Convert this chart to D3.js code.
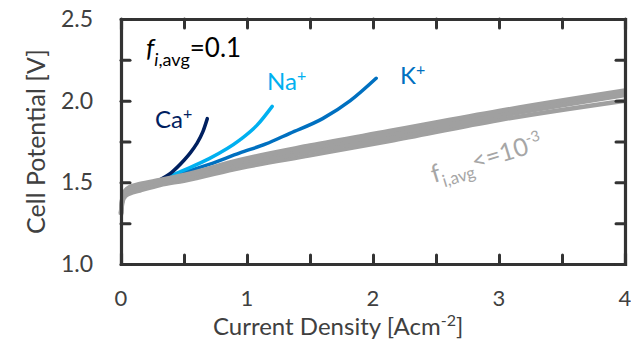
<!DOCTYPE html>
<html>
<head>
<meta charset="utf-8">
<script src="https://cdn.jsdelivr.net/npm/d3@7"></script>
<style>
  html, body { margin: 0; padding: 0; background: #fff; }
  svg { display: block; font-family: Lato, "Open Sans", sans-serif; }
</style>
</head>
<body>
<svg id="chart" width="631" height="340"></svg>
<script>
// Current density [A cm^-2] and cell potential [V] for each curve
const grayX  = [0, 0.005, 0.015, 0.035, 0.07, 0.15, 0.31, 0.5, 0.944, 1.5, 2.13, 3, 4];
const grayV1 = [1.31, 1.37, 1.415, 1.45, 1.472, 1.49, 1.514, 1.545, 1.637, 1.725, 1.814, 1.937, 2.062];
const grayV2 = [1.31, 1.365, 1.41, 1.442, 1.463, 1.48, 1.505, 1.535, 1.625, 1.71, 1.795, 1.918, 2.044];
const grayV3 = [1.305, 1.355, 1.40, 1.43, 1.449, 1.465, 1.495, 1.523, 1.607, 1.688, 1.774, 1.905, 2.035];
const grayV4 = [1.30, 1.345, 1.39, 1.415, 1.432, 1.45, 1.484, 1.51, 1.588, 1.665, 1.753, 1.882, 2.0];

const caX = [0.28, 0.4, 0.5, 0.55, 0.6, 0.65, 0.685];
const caV = [1.505, 1.56, 1.635, 1.68, 1.735, 1.81, 1.89];

const naX = [0.3, 0.5, 0.7, 0.944, 1.08, 1.2];
const naV = [1.51, 1.575, 1.645, 1.76, 1.85, 1.965];

const kX = [0.3, 0.5, 0.7, 0.944, 1.15, 1.34, 1.6, 1.82, 2.025];
const kV = [1.51, 1.56, 1.61, 1.68, 1.735, 1.80, 1.89, 2.0, 2.137];

const xTickLabels = [0, 1, 2, 3, 4];
const yTickLabels = [1.0, 1.5, 2.0, 2.5];
const xMinorTicks = [0, 0.5, 1, 1.5, 2, 2.5, 3, 3.5, 4];
const yMinorTicks = [1.0, 1.25, 1.5, 1.75, 2.0, 2.25, 2.5];

const svg = d3.select("#chart");
const plotLeft = 121, plotRight = 625, plotTop = 19, plotBottom = 264;

const x = d3.scaleLinear().domain([0, 4]).range([plotLeft, plotRight]);
const y = d3.scaleLinear().domain([1, 2.5]).range([plotBottom, plotTop]);

const axisColor = "#333333";
const textColor = "#404040";

const line = d3.line()
  .x(d => x(d[0]))
  .y(d => y(d[1]))
  .curve(d3.curveMonotoneX);

const zip = (xs, ys) => xs.map((v, i) => [v, ys[i]]);

// impurity cation curves (drawn first; they branch out of the grey band)
const ions = [
  { xs: kX, vs: kV, color: "#0070c0" },
  { xs: naX, vs: naV, color: "#00b0f0" },
  { xs: caX, vs: caV, color: "#002060" }
];
svg.append("g").selectAll("path")
  .data(ions)
  .join("path")
  .attr("d", d => line(zip(d.xs, d.vs)))
  .attr("fill", "none")
  .attr("stroke", d => d.color)
  .attr("stroke-width", 3.5)
  .attr("stroke-linecap", "round");

// grey curves (low impurity fraction)
const grays = [grayV4, grayV3, grayV2, grayV1];
svg.append("g").selectAll("path")
  .data(grays)
  .join("path")
  .attr("d", vs => line(zip(grayX, vs)))
  .attr("fill", "none")
  .attr("stroke", "#a0a0a0")
  .attr("stroke-width", 4.5)
  .attr("stroke-linecap", "butt");

// frame with inward ticks on all four sides
const tickLen = 9;
const frame = svg.append("g");
frame.append("g").attr("transform", `translate(0,${plotBottom})`)
  .call(d3.axisBottom(x).tickValues(xMinorTicks).tickSize(-tickLen).tickFormat(""));
frame.append("g").attr("transform", `translate(0,${plotTop})`)
  .call(d3.axisTop(x).tickValues(xMinorTicks).tickSize(-tickLen).tickFormat(""));
frame.append("g").attr("transform", `translate(${plotLeft},0)`)
  .call(d3.axisLeft(y).tickValues(yMinorTicks).tickSize(-tickLen).tickFormat(""));
frame.append("g").attr("transform", `translate(${plotRight},0)`)
  .call(d3.axisRight(y).tickValues(yMinorTicks).tickSize(-tickLen).tickFormat(""));
frame.selectAll(".domain")
  .attr("stroke", axisColor).attr("stroke-width", 3.2).attr("stroke-linecap", "square");
frame.selectAll(".tick line")
  .attr("stroke", axisColor).attr("stroke-width", 3).attr("stroke-linecap", "round");

// tick labels
svg.append("g").selectAll("text")
  .data(xTickLabels)
  .join("text")
  .attr("x", d => x(d))
  .attr("y", 306)
  .attr("text-anchor", "middle")
  .attr("fill", textColor)
  .attr("font-size", 22)
  .text(d => d3.format("d")(d));

svg.append("g").selectAll("text")
  .data(yTickLabels)
  .join("text")
  .attr("x", 93)
  .attr("y", d => y(d))
  .attr("dy", "0.35em")
  .attr("text-anchor", "end")
  .attr("fill", textColor)
  .attr("font-size", 23)
  .text(d => d3.format(".1f")(d));

// axis titles
const xTitle = svg.append("text")
  .attr("x", 213)
  .attr("y", 335)
  .attr("fill", textColor)
  .attr("font-size", 24);
xTitle.append("tspan").text("Current Density [Acm");
xTitle.append("tspan").attr("dy", -9).attr("font-size", 16).text("-2");
xTitle.append("tspan").attr("dy", 9).text("]");

svg.append("text")
  .attr("transform", `translate(45,${(plotTop + plotBottom) / 2}) rotate(-90)`)
  .attr("text-anchor", "middle")
  .attr("fill", textColor)
  .attr("font-size", 25)
  .text("Cell Potential [V]");

// series labels
function ionLabel(px, py, base, color) {
  const t = svg.append("text").attr("x", px).attr("y", py)
    .attr("fill", color).attr("font-size", 24);
  t.append("tspan").text(base);
  t.append("tspan").attr("dy", -9).attr("font-size", 16).text("+");
}
ionLabel(155, 128, "Ca", "#002060");
ionLabel(267, 90, "Na", "#00b0f0");
ionLabel(400, 84, "K", "#0070c0");

// impurity fraction annotations
const fTop = svg.append("text").attr("x", 146).attr("y", 57)
  .attr("fill", "#000").attr("font-size", 26);
fTop.append("tspan").attr("font-style", "italic").text("f");
fTop.append("tspan").attr("dy", 9).attr("font-size", 18).attr("font-style", "italic").text("i");
fTop.append("tspan").attr("font-size", 18).text(",avg");
fTop.append("tspan").attr("dy", -9).text("=0.1");

const fLow = svg.append("text")
  .attr("transform", "translate(434,183) rotate(-17)")
  .attr("fill", "#a6a6a6").attr("font-size", 25);
fLow.append("tspan").text("f");
fLow.append("tspan").attr("dy", 7).attr("font-size", 17).text("i,avg");
fLow.append("tspan").attr("dy", -7).text("<=10");
fLow.append("tspan").attr("dy", -10).attr("font-size", 15).text("-3");
</script>
</body>
</html>
